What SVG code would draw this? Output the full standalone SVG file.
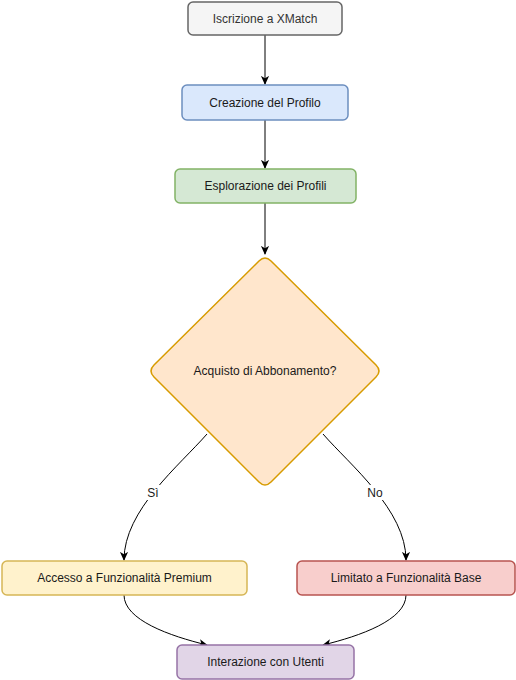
<svg xmlns="http://www.w3.org/2000/svg" width="516" height="680" viewBox="0 0 516 680">
<style>
text{font-family:"Liberation Sans",Arial,sans-serif;font-size:12px;fill:#1a1a1a;text-anchor:middle;dominant-baseline:central}
.box{stroke-width:1.5}
.edge{fill:none;stroke:#000;stroke-width:1;marker-end:url(#arr)}
.lbl{fill:#fff}
</style>
<defs>
<marker id="arr" viewBox="0 0 10 10" refX="9" refY="5" markerWidth="9" markerHeight="9" markerUnits="userSpaceOnUse" orient="auto">
<path d="M0,0.5 L10,5 L0,9.5 L2.5,5 Z" fill="#000"/>
</marker>
</defs>
<rect width="516" height="680" fill="#fff"/>
<g id="connectors">
<path class="edge" d="M265,35 L265,84"/>
<path class="edge" d="M265,120 L265,168"/>
<path class="edge" d="M265,203 L265,254"/>
<path class="edge" d="M207,434 C180,465 124,510 124,560"/>
<path class="edge" d="M323,434 C350,465 406,510 406,560"/>
<path class="edge" d="M124,595 C124,620 170,636 207,645"/>
<path class="edge" d="M406,595 C406,620 360,636 323,645"/>
<rect class="lbl" x="145" y="485" width="16" height="15"/>
<text x="153" y="493">Sì</text>
<rect class="lbl" x="366" y="485" width="18" height="15"/>
<text x="375" y="493">No</text>
</g>
<g id="n1">
<rect class="box" x="188" y="2" width="154" height="33" rx="5" fill="#f5f5f5" stroke="#666666"/>
<text x="265" y="18.5" style="fill:#333333">Iscrizione a XMatch</text>
</g>
<g id="n2">
<rect class="box" x="182" y="85" width="166" height="35" rx="5" fill="#dae8fc" stroke="#6c8ebf"/>
<text x="265" y="102.5">Creazione del Profilo</text>
</g>
<g id="n3">
<rect class="box" x="175" y="169" width="181" height="34" rx="5" fill="#d5e8d4" stroke="#82b366"/>
<text x="265.5" y="186">Esplorazione dei Profili</text>
</g>
<g id="n4">
<path class="box" d="M259,261 Q265,255 271,261 L376,365 Q382,371 376,377 L271,482 Q265,488 259,482 L154,377 Q148,371 154,365 Z" fill="#ffe6cc" stroke="#d79b00"/>
<text x="265" y="371">Acquisto di Abbonamento?</text>
</g>
<g id="n5">
<rect class="box" x="2" y="561" width="245" height="34" rx="5" fill="#fff2cc" stroke="#d6b656"/>
<text x="124.5" y="578">Accesso a Funzionalità Premium</text>
</g>
<g id="n6">
<rect class="box" x="297" y="561" width="218" height="34" rx="5" fill="#f8cecc" stroke="#b85450"/>
<text x="406" y="578">Limitato a Funzionalità Base</text>
</g>
<g id="n7">
<rect class="box" x="177" y="645" width="177" height="34" rx="5" fill="#e1d5e7" stroke="#9673a6"/>
<text x="265.5" y="662">Interazione con Utenti</text>
</g>
</svg>
